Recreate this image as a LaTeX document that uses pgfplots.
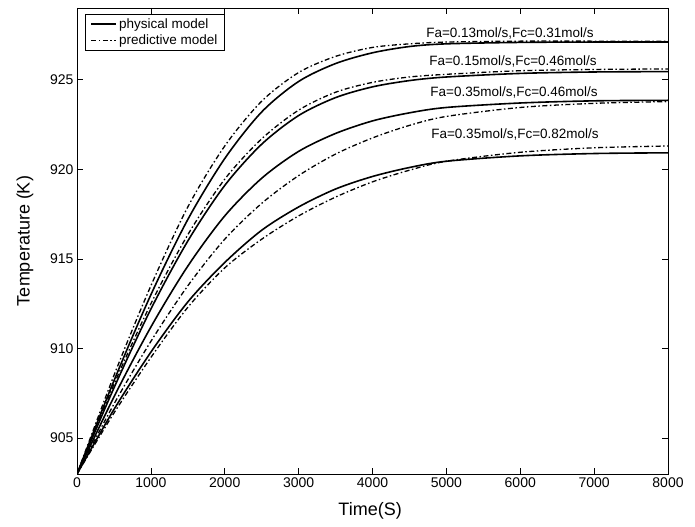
\documentclass[border=0pt]{standalone}
\usepackage{pgfplots}
\pgfplotsset{compat=1.18}
\usepackage{fontspec}
\setmainfont{Liberation Sans}
\begin{document}
\begin{tikzpicture}
\begin{axis}[
  scale only axis,
  width=591pt, height=466pt,
  xmin=0, xmax=8000, ymin=903, ymax=929,
  xtick={0,1000,...,8000},
  ytick={905,910,915,920,925},
  tick align=inside,
  major tick length=6pt,
  scaled x ticks=false,
  xticklabel style={/pgf/number format/1000 sep={}},
  /pgf/number format/assume math mode=true,
  tick label style={font=\fontsize{14}{16}\selectfont},
  label style={font=\fontsize{18}{20}\selectfont},
  xlabel={Time(S)},
  ylabel={Temperature (K)},
  xlabel style={at={(axis description cs:0.496,-0.079)}, anchor=center},
  ylabel style={at={(axis description cs:-0.088,0.5)}, anchor=center},
  axis line style={line width=0.8pt},
  every tick/.style={black, line width=0.6pt},
  legend style={at={(0.014,0.988)}, anchor=north west, draw=black, line width=0.6pt,
    font=\fontsize{13.5}{15}\selectfont, inner xsep=5pt, inner ysep=2.5pt, row sep=1pt},
  legend cell align=left,
  legend image code/.code={\draw[#1] (0pt,0pt) -- (25pt,0pt);},
  clip=true,
]
\addplot[black, line width=1.6pt, smooth] coordinates {(0,903) (500,908.2) (1000,913.0) (1500,917.2) (2000,920.6) (2500,923.2) (3000,924.9) (3500,925.9) (4000,926.5) (4500,926.85) (5000,927.0) (6000,927.08) (7000,927.1) (8000,927.1)};
\addlegendentry{physical model}
\addplot[black, line width=1.3pt, smooth, dash pattern=on 5pt off 2.5pt on 1.5pt off 2.5pt] coordinates {(0,903) (500,908.5) (1000,913.5) (1500,917.9) (2000,921.3) (2500,923.8) (3000,925.4) (3500,926.3) (4000,926.8) (4500,927.0) (5000,927.1) (6000,927.15) (7000,927.15) (8000,927.15)};
\addlegendentry{predictive model}
\addplot[black, line width=1.6pt, smooth, forget plot] coordinates {(0,903) (500,907.8) (1000,912.2) (1500,916.0) (2000,919.1) (2500,921.4) (3000,923.0) (3500,924.0) (4000,924.6) (4500,924.95) (5000,925.15) (6000,925.35) (7000,925.43) (8000,925.45)};
\addplot[black, line width=1.3pt, smooth, forget plot, dash pattern=on 5pt off 2.5pt on 1.5pt off 2.5pt] coordinates {(0,903) (500,908.0) (1000,912.5) (1500,916.35) (2000,919.45) (2500,921.7) (3000,923.3) (3500,924.3) (4000,924.85) (4500,925.15) (5000,925.3) (6000,925.5) (7000,925.57) (8000,925.6)};
\addplot[black, line width=1.6pt, smooth, forget plot] coordinates {(0,903) (500,907.3) (1000,911.2) (1500,914.6) (2000,917.4) (2500,919.5) (3000,921.0) (3500,922.0) (4000,922.7) (4500,923.15) (5000,923.45) (6000,923.7) (7000,923.82) (8000,923.85)};
\addplot[black, line width=1.3pt, smooth, forget plot, dash pattern=on 5pt off 2.5pt on 1.5pt off 2.5pt] coordinates {(0,903) (500,906.9) (1000,910.4) (1500,913.5) (2000,916.1) (2500,918.1) (3000,919.65) (3500,920.85) (4000,921.75) (4500,922.45) (5000,922.95) (6000,923.45) (7000,923.68) (8000,923.78)};
\addplot[black, line width=1.6pt, smooth, forget plot] coordinates {(0,903) (500,906.6) (1000,909.8) (1500,912.6) (2000,914.8) (2500,916.6) (3000,917.9) (3500,918.9) (4000,919.6) (4500,920.1) (5000,920.45) (6000,920.75) (7000,920.88) (8000,920.92)};
\addplot[black, line width=1.3pt, smooth, forget plot, dash pattern=on 5pt off 2.5pt on 1.5pt off 2.5pt] coordinates {(0,903) (500,906.4) (1000,909.5) (1500,912.3) (2000,914.5) (2500,916.1) (3000,917.4) (3500,918.45) (4000,919.3) (4500,919.95) (5000,920.45) (6000,920.95) (7000,921.2) (8000,921.3)};
\node[font=\fontsize{13.5}{15}\selectfont] at (axis cs:5861,927.6) {Fa=0.13mol/s,Fc=0.31mol/s};
\node[font=\fontsize{13.5}{15}\selectfont] at (axis cs:5902,926.0) {Fa=0.15mol/s,Fc=0.46mol/s};
\node[font=\fontsize{13.5}{15}\selectfont] at (axis cs:5916,924.28) {Fa=0.35mol/s,Fc=0.46mol/s};
\node[font=\fontsize{13.5}{15}\selectfont] at (axis cs:5929,921.92) {Fa=0.35mol/s,Fc=0.82mol/s};
\end{axis}
\path[use as bounding box] ([shift={(-77pt,-52pt)}]current axis.south west) rectangle ([shift={(27pt,8pt)}]current axis.north east);
\end{tikzpicture}
\end{document}
